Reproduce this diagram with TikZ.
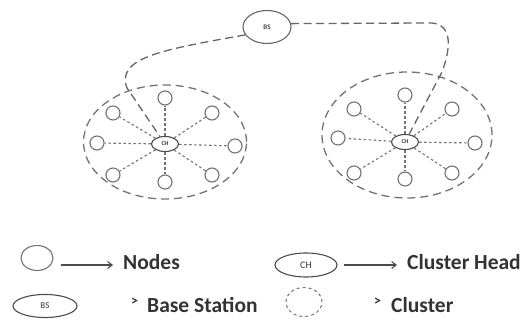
\documentclass[tikz,border=0pt]{standalone}
\usepackage{fontspec}
\setmainfont{Carlito}
\usetikzlibrary{shapes.geometric,arrows.meta}
\begin{document}
\begin{tikzpicture}[x=1pt,y=-1pt,
  sensor/.style={circle,draw=black!55,line width=1.1pt,minimum size=14pt,inner sep=0pt},
  head/.style={ellipse,draw=black!70,line width=1.1pt,minimum width=27pt,minimum height=15pt,inner sep=0pt,font=\fontsize{6}{6}\selectfont\bfseries,text=black!80},
  clusterring/.style={ellipse,draw=black!55,line width=1.3pt,dash pattern=on 8pt off 5pt,inner sep=0pt},
  spoke/.style={draw=black!55,line width=1.1pt,dash pattern=on 2.5pt off 2.5pt},
  link/.style={draw=black!60,line width=1.3pt,dash pattern=on 8pt off 4.5pt},
  legtext/.style={anchor=west,inner sep=0pt,font=\fontsize{21.5}{24}\selectfont\bfseries,text=black!80},
  gt/.style={anchor=west,inner sep=0pt,font=\fontsize{14}{14}\selectfont\bfseries,text=black!80},
  legarrow/.style={draw=black!70,line width=1.1pt,-{Straight Barb[length=4.5pt,width=7pt]}}]
\useasboundingbox (0,0) rectangle (525,323);

% clusters
\node[clusterring,minimum width=163pt,minimum height=114pt] (C1) at (165,142) {};
\node[clusterring,minimum width=170pt,minimum height=126pt] (C2) at (407,135) {};

% base station
\node[ellipse,draw=black!60,line width=1.1pt,minimum width=48pt,minimum height=33pt,inner sep=0pt,font=\fontsize{7}{7}\selectfont\bfseries,text=black!70] (BS) at (267,27) {BS};

% cluster heads
\node[head] (CH1) at (165,144) {CH};
\node[head] (CH2) at (405,142) {CH};

% left cluster nodes
\node[sensor] (L0) at (165,98) {};
\node[sensor] (L1) at (212,113) {};
\node[sensor] (L2) at (235,146) {};
\node[sensor] (L3) at (212,175) {};
\node[sensor] (L4) at (165,182) {};
\node[sensor] (L5) at (113,175) {};
\node[sensor] (L6) at (97,143) {};
\node[sensor] (L7) at (113,113) {};

% right cluster nodes
\node[sensor] (R0) at (405,95) {};
\node[sensor] (R1) at (452,109) {};
\node[sensor] (R2) at (475,143) {};
\node[sensor] (R3) at (452,173) {};
\node[sensor] (R4) at (405,179) {};
\node[sensor] (R5) at (354,173) {};
\node[sensor] (R6) at (338,138) {};
\node[sensor] (R7) at (354,109) {};

\foreach \i in {0,...,7} {
  \draw[spoke] (CH1) -- (L\i);
  \draw[spoke] (CH2) -- (R\i);
}

% links to base station
\draw[link] (BS.200) .. controls (160,50) and (116,58) .. (127,88) -- (CH1);
\draw[link] (BS.8) -- (428,23) .. controls (452,22) and (452,45) .. (442,72) -- (CH2);

% legend
\node[sensor,ellipse,minimum width=32pt,minimum height=25pt] (LN) at (37,258) {};
\node[legtext] (tN) at (123,262) {Nodes};
\draw[legarrow] (LN.east) ++(7,7) coordinate (aN) -- (113,265) coordinate (bN);

\node[head,minimum width=62pt,minimum height=24pt,font=\fontsize{10}{10}\selectfont] (LCH) at (306,265) {CH};
\node[legtext] (tCH) at (407,262) {Cluster Head};
\draw[legarrow] (LCH.east) ++(6,0) coordinate (aC) -- (397,265) coordinate (bC);

\node[ellipse,draw=black!70,line width=1.1pt,minimum width=64pt,minimum height=23pt,inner sep=0pt,font=\fontsize{9}{9}\selectfont,text=black!80] (LBS) at (45,306) {BS};
\node[gt] (gB) at (131,302) {>};
\node[legtext] (tB) at (147,305) {Base Station};

\node[clusterring,line width=1pt,dash pattern=on 3pt off 3pt,minimum width=36pt,minimum height=29pt] (LC) at (304,302) {};
\node[gt] (gC) at (374,302) {>};
\node[legtext] (tC) at (391,305) {Cluster};
\end{tikzpicture}
\end{document}
